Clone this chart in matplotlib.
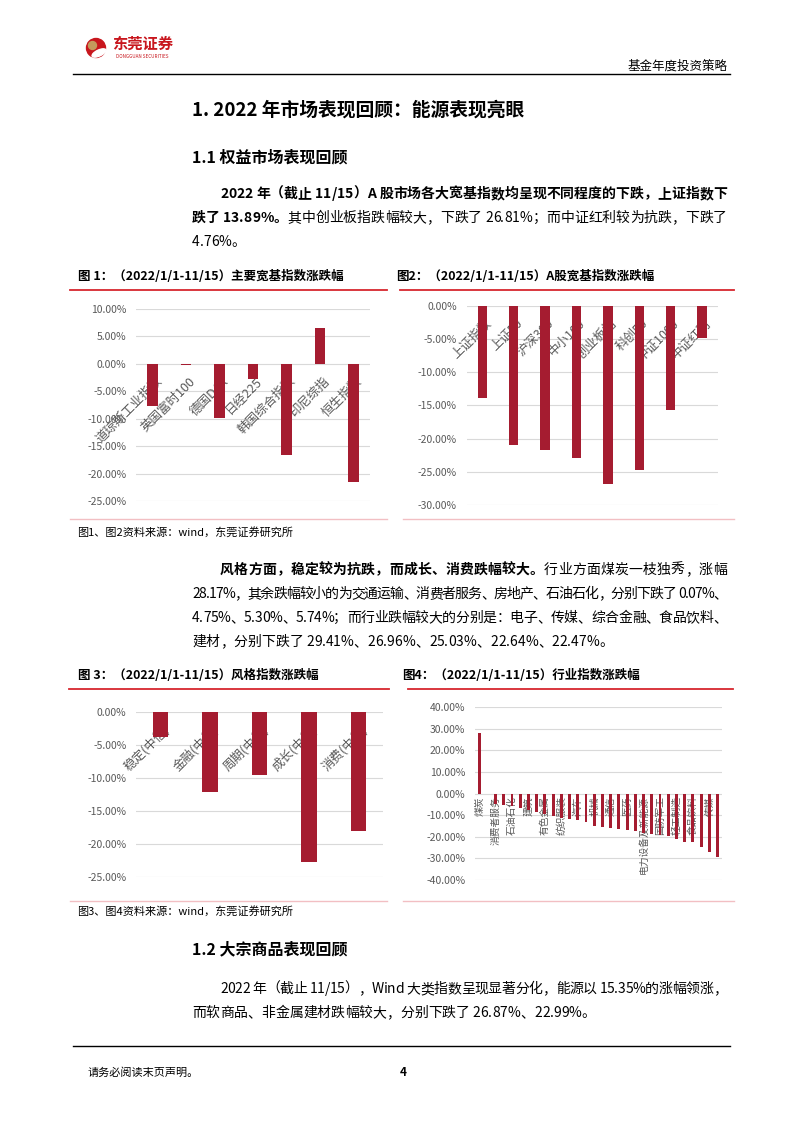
import numpy as np
import matplotlib
matplotlib.use("Agg")
import matplotlib.pyplot as plt
from matplotlib.patches import Circle, Ellipse
from matplotlib.font_manager import findfont, FontProperties
from matplotlib.ft2font import FT2Font

plt.rcParams['font.family'] = ['Noto Sans CJK SC', 'DejaVu Sans']

# 图1 主要宽基指数涨跌幅 (%)
global_names = ['道琼斯工业指数', '英国富时100', '德国DAX', '日经225', '韩国综合指数', '印尼综指', '恒生指数']
global_vals = [-7.6, -0.2, -9.9, -2.7, -16.7, 6.6, -21.6]

# 图2 A股宽基指数涨跌幅 (%)
a_names = ['上证指数', '上证50', '沪深300', '中小100', '创业板指', '科创50', '中证1000', '中证红利']
a_vals = [-13.89, -21.0, -21.7, -22.9, -26.81, -24.7, -15.7, -4.76]

# 图3 风格指数涨跌幅 (%)
style_names = ['稳定(中信)', '金融(中信)', '周期(中信)', '成长(中信)', '消费(中信)']
style_vals = [-3.8, -12.1, -9.6, -22.8, -18.0]

# 图4 行业指数涨跌幅 (%)
ind_names = ['煤炭', '交通运输', '消费者服务', '房地产', '石油石化', '银行', '建筑', '农林牧渔',
             '有色金属', '商贸零售', '纺织服装', '综合', '汽车', '非银行金融', '机械', '钢铁',
             '通信', '电力及公用事业', '医药', '基础化工', '电力设备及新能源', '家电', '国防军工',
             '计算机', '轻工制造', '建材', '食品饮料', '综合金融', '传媒', '电子']
ind_vals = [28.17, -0.07, -4.75, -5.30, -5.74, -6.6, -7.5, -8.8, -9.6, -10.5, -11.2, -11.8,
            -12.3, -13.0, -15.0, -15.4, -15.9, -16.3, -16.8, -17.3, -18.2, -18.9, -19.3,
            -19.9, -21.0, -22.47, -22.64, -25.03, -26.96, -29.41]

W, H = 802, 1133
BAR = '#a51c30'
GRID = '#d9d9d9'
TICK = '#595959'
TITLE_RED = '#d7262e'
PINK = '#f2bfc3'

fig = plt.figure(figsize=(W / 100, H / 100), dpi=100)


def fx(x):
    return x / W


def fy(y):
    return 1 - y / H


def put(x, y, s, size, bold=False, color='black', ha='left', **kw):
    return fig.text(fx(x), fy(y), s, fontsize=size, fontweight='bold' if bold else 'normal',
                    color=color, ha=ha, va='center', **kw)


def hline(x0, x1, y, color, lw):
    fig.add_artist(plt.Line2D([fx(x0), fx(x1)], [fy(y), fy(y)], color=color, lw=lw))


_fonts = {}


def adv(ch, bold, size):
    if bold not in _fonts:
        path = findfont(FontProperties(family='Noto Sans CJK SC', weight='bold' if bold else 'normal'))
        _fonts[bold] = FT2Font(path)
    f = _fonts[bold]
    f.set_size(size, 100)
    g = f.load_char(ord(ch))
    return g.linearHoriAdvance / 65536


def text_line(x0, y, runs, size=10, x1=None):
    # y is the visual centre of the line, converted to a baseline
    base = y + 0.36 * size * 100 / 72
    chars = [(ch, b) for s, b in runs for ch in s]
    advs = [adv(ch, b, size) for ch, b in chars]
    gap = 0
    if x1 is not None and len(chars) > 1:
        gap = (x1 - x0 - sum(advs)) / (len(chars) - 1)
    x = x0
    for (ch, b), a in zip(chars, advs):
        if ch != ' ':
            fig.text(fx(x), fy(base), ch, fontsize=size, fontweight='bold' if b else 'normal',
                     ha='left', va='baseline', color='black')
        x += a + gap


def chart(x0, x1, ytop, ybot, vals, ymin, ymax, step, width):
    ax = fig.add_axes([fx(x0), fy(ybot), (x1 - x0) / W, (ybot - ytop) / H])
    pos = np.arange(len(vals))
    ax.bar(pos, vals, width=width, color=BAR, zorder=3)
    ax.set_xlim(-0.5, len(vals) - 0.5)
    ax.set_ylim(ymin, ymax)
    ax.set_yticks(np.arange(ymin, ymax + step / 2, step))
    ax.yaxis.set_major_formatter(lambda v, p: f'{v:.2f}%')
    ax.set_xticks([])
    ax.grid(axis='y', color=GRID, lw=0.8, zorder=0)
    ax.set_axisbelow(True)
    for s in ax.spines.values():
        s.set_visible(False)
    ax.tick_params(axis='y', length=0, pad=7, labelsize=7.5, labelcolor=TICK)
    ax.patch.set_alpha(0)
    return ax, pos


def diag_labels(ax, pos, names, size=9):
    for i, n in zip(pos, names):
        ax.annotate(n, (i, 0), xytext=(5, -11), textcoords='offset points', rotation=45,
                    rotation_mode='anchor', ha='right', va='center', fontsize=size,
                    color=TICK, zorder=2, annotation_clip=False)


# ---- header
lax = fig.add_axes([fx(82), fy(62), 30 / W, 30 / H])
lax.set_xlim(82, 112)
lax.set_ylim(62, 32)
lax.set_aspect('equal')
lax.axis('off')
lax.add_patch(Circle((96, 48), 9.5, color='#c8161d'))
lax.add_patch(Ellipse((99, 53), 15, 6, angle=-25, color='white'))
lax.add_patch(Circle((92.5, 45.5), 4, color='#c49a5c'))
put(112, 44, '东莞证券', 11, bold=True, color='#c8161d')
put(116, 57, 'DONGGUAN SECURITIES', 3.3, color='#c8161d')
put(727, 66, '基金年度投资策略', 9, ha='right')
hline(73, 730, 73.5, 'black', 1.0)

# ---- section 1
put(192, 110, '1. 2022 年市场表现回顾：能源表现亮眼', 13.5, bold=True)
put(192, 157, '1.1 权益市场表现回顾', 11.5, bold=True)
text_line(220, 193, [('2022 年（截止 11/15）A 股市场各大宽基指数均呈现不同程度的下跌，上证指数下', True)], x1=727)
text_line(192, 217, [('跌了 13.89%。', True), ('其中创业板指跌幅较大，下跌了 26.81%；而中证红利较为抗跌，下跌了', False)], x1=727)
text_line(192, 241, [('4.76%。', False)])

# ---- chart 1
put(78, 276, '图 1：（2022/1/1-11/15）主要宽基指数涨跌幅', 9, bold=True)
hline(70, 387, 289.5, TITLE_RED, 1.3)
ax1, p1 = chart(136, 370, 309, 501, global_vals, -25, 10, 5, 0.32)
diag_labels(ax1, p1, global_names)
hline(70, 387, 519.5, PINK, 1.0)

# ---- chart 2
put(396, 276, '图2：（2022/1/1-11/15）A股宽基指数涨跌幅', 9, bold=True)
hline(400, 734, 289.5, TITLE_RED, 1.3)
ax2, p2 = chart(466.7, 717.7, 306, 505, a_vals, -30, 0, 5, 0.3)
diag_labels(ax2, p2, a_names)
hline(403, 734, 519.5, PINK, 1.0)

put(77, 532, '图1、图2资料来源：wind，东莞证券研究所', 8)

# ---- paragraph 2
text_line(220, 569, [('风格方面，稳定较为抗跌，而成长、消费跌幅较大。', True), ('行业方面煤炭一枝独秀，涨幅', False)], x1=727)
text_line(192, 593, [('28.17%，其余跌幅较小的为交通运输、消费者服务、房地产、石油石化，分别下跌了 0.07%、', False)], x1=727)
text_line(192, 617, [('4.75%、5.30%、5.74%；而行业跌幅较大的分别是：电子、传媒、综合金融、食品饮料、', False)], x1=727)
text_line(192, 641, [('建材，分别下跌了 29.41%、26.96%、25.03%、22.64%、22.47%。', False)])

# ---- chart 3
put(78, 675, '图 3：（2022/1/1-11/15）风格指数涨跌幅', 9, bold=True)
hline(69, 389, 688.5, TITLE_RED, 1.3)
ax3, p3 = chart(136, 383, 711.7, 876.7, style_vals, -25, 0, 5, 0.31)
diag_labels(ax3, p3, style_names)
hline(70, 387, 900.5, PINK, 1.0)

# ---- chart 4
put(402, 675, '图4：（2022/1/1-11/15）行业指数涨跌幅', 9, bold=True)
hline(408, 733, 688.5, TITLE_RED, 1.3)
ax4, p4 = chart(475, 721.7, 707.3, 879.7, ind_vals, -40, 40, 10, 0.35)
for i in p4[::2]:
    ax4.annotate(ind_names[i], (i, 0), xytext=(0, -2), textcoords='offset points', rotation=90,
                 ha='center', va='top', fontsize=7, color=TICK, zorder=2, annotation_clip=False)
hline(403, 734, 900.5, PINK, 1.0)

put(77, 911, '图3、图4资料来源：wind，东莞证券研究所', 8)

# ---- section 1.2
put(192, 949, '1.2 大宗商品表现回顾', 11.5, bold=True)
text_line(220, 988, [('2022 年（截止 11/15），Wind 大类指数呈现显著分化，能源以 15.35%的涨幅领涨，', False)], x1=727)
text_line(192, 1012, [('而软商品、非金属建材跌幅较大，分别下跌了 26.87%、22.99%。', False)])

# ---- footer
hline(73, 730, 1046, 'black', 1.0)
put(88, 1073, '请务必阅读末页声明。', 8)
put(400, 1072, '4', 8.5, bold=True)

fig.savefig('out.png', dpi=100)
